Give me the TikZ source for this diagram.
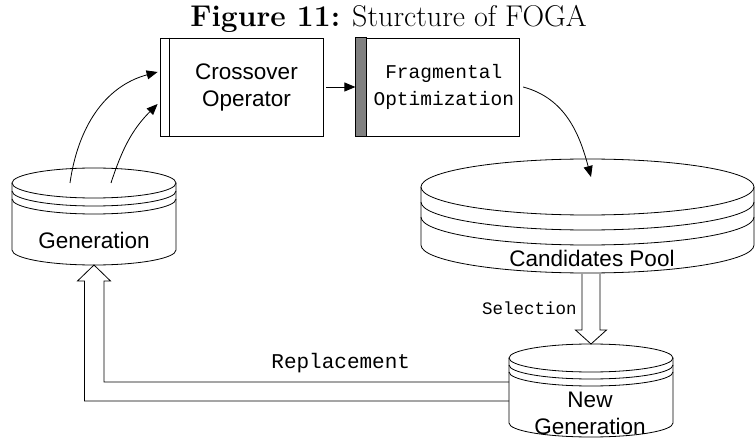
\documentclass[tikz,border=0pt]{standalone}
\usepackage{fontspec}
\usepackage{tikz}
\usetikzlibrary{arrows.meta, positioning}
\newfontfamily\arialfont{Liberation Sans}
\newfontfamily\courfont{Liberation Mono}
\definecolor{stripgray}{HTML}{808080}

% banded drum: name, cx, top y, rx, ry, bottom y, band gap
\newcommand{\dbdrum}[7]{%
  \coordinate (#1-ctr) at (#2,#3);
  \coordinate (#1-top) at (#2,#3+#5);
  \coordinate (#1-bot) at (#2,#6-#5);
  \coordinate (#1-west) at (#2-#4,#3);
  \draw (#2-#4,#3) -- (#2-#4,#6)
        arc[start angle=180, end angle=360, x radius=#4, y radius=#5] -- (#2+#4,#3);
  \draw (#2,#3) ellipse[x radius=#4, y radius=#5];
  \foreach \k in {1,2}
    \draw (#2-#4,#3-\k*#7) arc[start angle=180, end angle=360, x radius=#4, y radius=#5];
}

\begin{document}
\begin{tikzpicture}[x=1pt, y=1pt, line width=0.8pt,
      box/.style={rectangle, draw, minimum width=163pt, minimum height=98pt, inner sep=0pt},
      sans/.style={font=\arialfont\fontsize{22.5}{27}\selectfont, align=center, inner sep=0pt},
      mono/.style={font=\courfont\fontsize{19.5}{27}\selectfont, align=center, inner sep=0pt},
      arr/.style={-{Triangle[length=11pt, width=9pt]}}
    ]
      \useasboundingbox (0,0) rectangle (756,-441);

      \node[anchor=base, font=\fontsize{30}{35}\selectfont] (title) at (388.5,-27)
        {\textbf{Figure 11:} Sturcture of FOGA};

      % operator boxes
      \node[box] (cross) at (241.5,-87) {};
      \node[box, minimum width=164pt, right=32pt of cross] (frag) {};
      \draw ([xshift=10pt]cross.north west) -- ([xshift=10pt]cross.south west);
      \draw[fill=stripgray] (frag.north west) rectangle ([xshift=11pt]frag.south west);
      \node[sans] (crosstxt) at ([xshift=5pt]cross.center) {Crossover\\Operator};
      \node[mono] (fragtxt) at ([xshift=6pt]frag.center) {Fragmental\\Optimization};

      % populations
      \dbdrum{gen}{94}{-183}{82}{15}{-250}{8}
      \dbdrum{pool}{587.5}{-187}{166.5}{28}{-245}{15}
      \dbdrum{newgen}{591}{-358}{82}{14}{-423}{7}
      \node[sans] (gentxt) at (94,-240) {Generation};
      \node[sans] (pooltxt) at (592,-258) {Candidates Pool};
      \node[sans] (newgentxt) at (590,-413) {New\\Generation};

      % flow
      \draw[arr] ([xshift=-24pt]gen-ctr) to[out=82, in=195] ([shift={(-2pt,15pt)}]cross.west);
      \draw[arr] ([xshift=17pt]gen-ctr) to[out=72, in=225] ([shift={(-2pt,-17pt)}]cross.west);
      \draw[arr] ([xshift=3pt]cross.east) -- (frag.west);
      \draw[arr] ([xshift=3pt]frag.east) to[out=-15, in=105] ([shift={(3.5pt,10pt)}]pool-ctr);

      % selection and replacement
      \draw ([shift={(-9pt,70pt)}]newgen-top) -- ++(0,-56) -- ++(-6.5,0) -- (newgen-top)
            -- ++(15.5,14) -- ++(-6.5,0) -- ++(0,56);
      \node[mono, anchor=base east, font=\courfont\fontsize{17.5}{21}\selectfont] (sel) at (577,-315) {Selection};
      \draw ([yshift=-24pt]newgen-west) -| ([shift={(10pt,-16pt)}]gen-bot) -- ++(6.5,0) -- (gen-bot)
            -- ++(-16.5,-16) -- ++(7,0) |- ([yshift=-43pt]newgen-west);
      \node[mono, anchor=base west, font=\courfont\fontsize{21}{25}\selectfont] (repl) at (271,-368) {Replacement};
    \end{tikzpicture}
\end{document}
